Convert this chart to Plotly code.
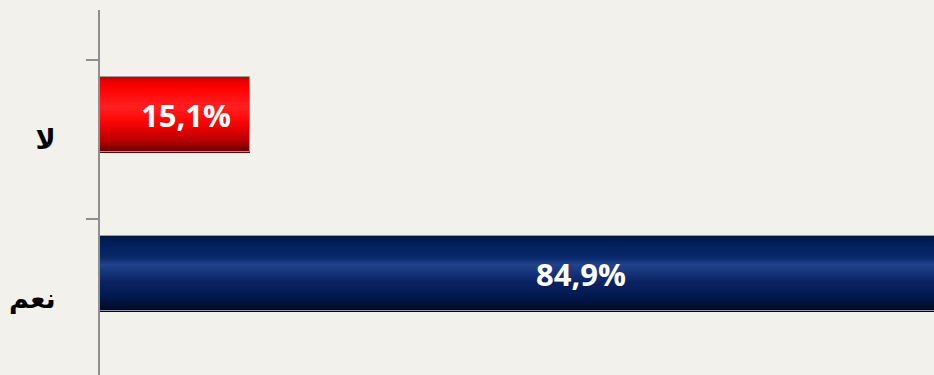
import plotly.graph_objects as go

# Survey answers (bottom to top) and their shares in percent
categories = ["نعم", "لا"]
shares = [84.9, 15.1]

# Vertical shading profiles (t = 0 top edge, t = 1 bottom edge)
blue_stops = [(0.0, (0, 22, 70)), (0.08, (0, 30, 90)), (0.28, (8, 40, 106)),
              (0.38, (34, 66, 138)), (0.46, (24, 56, 126)), (0.60, (10, 36, 100)),
              (0.80, (2, 26, 80)), (0.93, (0, 14, 52)), (1.0, (0, 8, 30))]
red_stops = [(0.0, (190, 0, 0)), (0.06, (235, 0, 0)), (0.14, (255, 0, 0)),
             (0.40, (255, 32, 32)), (0.55, (255, 10, 10)), (0.70, (228, 0, 0)),
             (0.86, (180, 0, 0)), (1.0, (100, 0, 0))]


def shade(stops, t):
    for (t0, c0), (t1, c1) in zip(stops, stops[1:]):
        if t0 <= t <= t1:
            f = (t - t0) / (t1 - t0) if t1 > t0 else 0
            c = [round(a + (b - a) * f) for a, b in zip(c0, c1)]
            return f"rgb({c[0]},{c[1]},{c[2]})"
    c = stops[-1][1]
    return f"rgb({c[0]},{c[1]},{c[2]})"


bar_h = 0.472      # bar thickness in category units
lift = 0.157       # bar centre sits above the category centre
bottom = lift - bar_h / 2
n_strips = 60

fig = go.Figure()
for i in range(n_strips):
    t = (i + 0.5) / n_strips
    top = lift + bar_h / 2 - i * bar_h / n_strips
    fig.add_trace(go.Bar(
        x=shares, y=categories, orientation="h",
        width=top - bottom, offset=bottom,
        marker=dict(color=[shade(blue_stops, t), shade(red_stops, t)],
                    line=dict(width=0)),
        hoverinfo="skip", showlegend=False,
    ))

# thin outline around each bar
fig.add_trace(go.Bar(
    x=shares, y=categories, orientation="h",
    width=bar_h, offset=bottom,
    marker=dict(color="rgba(0,0,0,0)", line=dict(color="#9a9a9a", width=1)),
    hoverinfo="skip", showlegend=False,
))

# value labels
for i, v in enumerate(shares):
    fig.add_annotation(
        x=v * 0.57, y=i + lift, xref="x", yref="y",
        text=f"{v:.1f}".replace(".", ",") + "%", showarrow=False,
        font=dict(family="Open Sans", size=31, color="white", weight="bold"),
        xanchor="center", yanchor="middle",
    )

bg = "#f2f1eb"
fig.update_layout(
    width=934, height=375,
    margin=dict(l=100, r=0, t=10, b=0),
    paper_bgcolor=bg, plot_bgcolor=bg,
    barmode="overlay", bargap=0,
    xaxis=dict(range=[0, 83.95], visible=False, fixedrange=True),
    yaxis=dict(
        type="category", categoryorder="array", categoryarray=categories,
        range=[-0.4811, 1.8145],
        showline=True, linecolor="#8f8f8f", linewidth=2,
        ticks="outside", tickson="boundaries", ticklen=12,
        tickcolor="#8f8f8f", tickwidth=2,
        showgrid=False, zeroline=False,
        tickfont=dict(family="DejaVu Sans", size=27, color="black", weight="bold"),
        ticklabelstandoff=37,
    ),
)

fig.write_html("out.html")
